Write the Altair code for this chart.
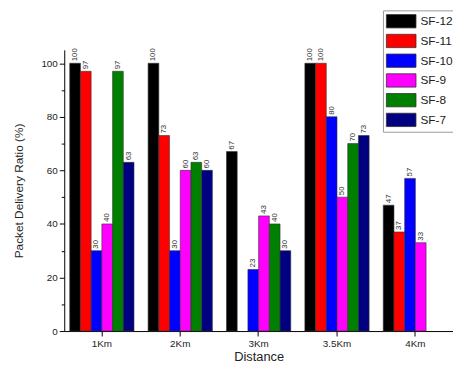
import altair as alt
import pandas as pd

distances = ["1Km", "2Km", "3Km", "3.5Km", "4Km"]
series = ["SF-12", "SF-11", "SF-10", "SF-9", "SF-8", "SF-7"]
colors = ["#000000", "#FF0000", "#0000FF", "#FF00FF", "#008000", "#000080"]

sf12 = [100, 100, 67, 100, 47]
sf11 = [97, 73, None, 100, 37]
sf10 = [30, 30, 23, 80, 57]
sf9 = [40, 60, 43, 50, 33]
sf8 = [97, 63, 40, 70, None]
sf7 = [63, 60, 30, 73, None]

rows = []
for name, vals in zip(series, [sf12, sf11, sf10, sf9, sf8, sf7]):
    for d, v in zip(distances, vals):
        if v is not None:
            rows.append({"Distance": d, "Series": name, "PDR": v})
df = pd.DataFrame(rows)

FONT = "Liberation Sans"

x = alt.X("Distance:N", sort=distances,
          scale=alt.Scale(paddingInner=0.18, paddingOuter=0.07),
          axis=alt.Axis(title="Distance", labelAngle=0, labelFontSize=10,
                        titleFontSize=13, titleFontWeight="normal",
                        labelColor="#222", titleColor="#222",
                        domainColor="#000", tickColor="#000", tickSize=5,
                        labelPadding=3, titlePadding=2, labelFont=FONT,
                        titleFont=FONT))
xo = alt.XOffset("Series:N", sort=series,
                 scale=alt.Scale(domain=series, paddingInner=0))
y = alt.Y("PDR:Q", scale=alt.Scale(domain=[0, 105], nice=False),
          axis=alt.Axis(title="Packet Delivery Ratio (%)",
                        values=list(range(0, 101, 10)),
                        labelExpr="datum.value % 20 === 0 ? datum.label : ''",
                        tickSize={"condition": {"test": "datum.value % 20 === 0", "value": 5}, "value": 3},
                        grid=False, labelFontSize=10, titleFontSize=12,
                        titleFontWeight="normal", labelColor="#222",
                        titleColor="#222", domainColor="#000",
                        tickColor="#000", labelPadding=2, titlePadding=16,
                        labelFont=FONT, titleFont=FONT))

bars = alt.Chart(df).mark_bar(stroke="#333", strokeWidth=0.6).encode(
    x=x, xOffset=xo, y=y,
    color=alt.Color("Series:N", sort=series,
                    scale=alt.Scale(domain=series, range=colors),
                    legend=alt.Legend(title=None, orient="none",
                                      legendX=323, legendY=-40,
                                      symbolType="M-1,-0.9H3V0.9H-1Z",
                                      symbolSize=225, symbolStrokeColor="#333",
                                      symbolStrokeWidth=0.8,
                                      labelFontSize=12, labelFont=FONT,
                                      labelColor="#222", labelOffset=19,
                                      rowPadding=2, padding=3,
                                      strokeColor="#999", fillColor="white")),
)

labels = alt.Chart(df).mark_text(angle=270, align="left", baseline="middle",
                                 dx=2, fontSize=8, font=FONT, color="#333").encode(
    x=x, xOffset=xo, y=y, text=alt.Text("PDR:Q"),
)

chart = (bars + labels).properties(
    width=451, height=358,
    autosize=alt.AutoSizeParams(type="fit", contains="padding"),
    padding={"left": 4, "top": 40, "right": 0, "bottom": 0},
).configure_view(stroke=None)

chart.save("out.html", embed_options={"renderer": "svg", "actions": False})
